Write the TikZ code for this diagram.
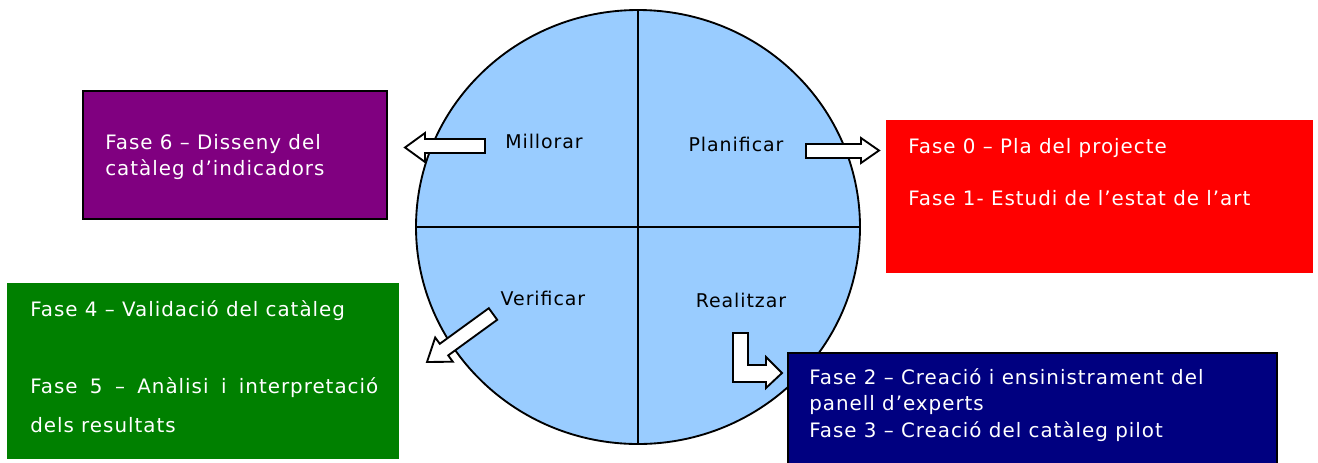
\documentclass[tikz,border=0pt]{standalone}
\usepackage{fontspec}
\setmainfont{DejaVu Sans}[LetterSpace=5]
\usetikzlibrary{shapes.geometric}
\definecolor{circ}{HTML}{99CCFF}
\definecolor{phpurple}{HTML}{800080}
\definecolor{phred}{HTML}{FF0000}
\definecolor{phgreen}{HTML}{008000}
\definecolor{phnavy}{HTML}{000080}
\tikzset{
  boxtxt/.style={anchor=base west, inner sep=0pt, font=\fontsize{14.9}{17}\selectfont, text=white},
  quadtxt/.style={anchor=base, inner sep=0pt, font=\fontsize{14.2}{17}\selectfont, text=black},
  phbox/.style={rectangle, anchor=north west, inner sep=0pt},
  blockarrow/.style={draw=black, fill=white, line width=1.4pt, line join=miter},
}
\begin{document}
\begin{tikzpicture}[x=0.75pt,y=-0.75pt]
\useasboundingbox[fill=white] (0,0) rectangle (1318,462);
% circle
\node[ellipse, draw=black, line width=1.4pt, fill=circ, inner sep=0pt,
      minimum width=333pt, minimum height=325.5pt] (cyc) at (638,227) {};
\draw[line width=1.4pt] (cyc.west) -- (cyc.east);
\draw[line width=1.4pt] (cyc.north) -- (cyc.south);
% quadrant labels
\node[quadtxt] (mill) at (544,148) {Millorar};
\node[quadtxt] (plan) at (736,151) {Planificar};
\node[quadtxt] (verif) at (543,305) {Verificar};
\node[quadtxt] (real) at (741,307) {Realitzar};
% boxes
\node[phbox, fill=phpurple, draw=black, line width=1.5pt,
      minimum width=228pt, minimum height=96pt] (b6) at (82,90) {};
\node[phbox, fill=phred, minimum width=320.25pt, minimum height=114.75pt] (b01) at (886,120) {};
\node[phbox, fill=phgreen, minimum width=294pt, minimum height=132pt] (b45) at (7,283) {};
\node[phbox, fill=phnavy, draw=black, line width=1.5pt,
      minimum width=366.75pt, minimum height=90pt] (b23) at (787,352) {};
% box texts
\node[boxtxt] (t6a) at (105,149) {Fase 6 – Disseny del};
\node[boxtxt] (t6b) at (105,175) {catàleg d’indicadors};
\node[boxtxt] (t0) at (908,153) {Fase 0 – Pla del projecte};
\node[boxtxt] (t1) at (908,205) {Fase 1- Estudi de l’estat de l’art};
\node[boxtxt] (t4) at (30,316) {Fase 4 – Validació del catàleg};
\node[boxtxt] (t5a) at (30,393) {\makebox[261pt][s]{Fase 5 – Anàlisi i interpretació}};
\node[boxtxt] (t5b) at (30,432) {dels resultats};
\node[boxtxt] (t2a) at (809,384) {Fase 2 – Creació i ensinistrament del};
\node[boxtxt] (t2b) at (809,410) {panell d’experts};
\node[boxtxt] (t3) at (809,437) {Fase 3 – Creació del catàleg pilot};
% block arrows
\draw[blockarrow] (485,139) -- (425,139) -- (425,133) -- (405,147.5) -- (425,162) -- (425,153) -- (485,153) -- cycle;
\draw[blockarrow] (806,144) -- (861,144) -- (861,138) -- (879,150.5) -- (861,163) -- (861,158) -- (806,158) -- cycle;
\draw[blockarrow] (488.8,308.2) -- (439.8,343.8) -- (435.2,337.5) -- (427,362) -- (452.8,361.7) -- (448.2,355.4) -- (497.2,319.8) -- cycle;
\draw[blockarrow] (733,333) -- (748,333) -- (748,365) -- (766,365) -- (766,357) -- (782,373) -- (766,388) -- (766,382) -- (733,382) -- cycle;
\end{tikzpicture}
\end{document}
